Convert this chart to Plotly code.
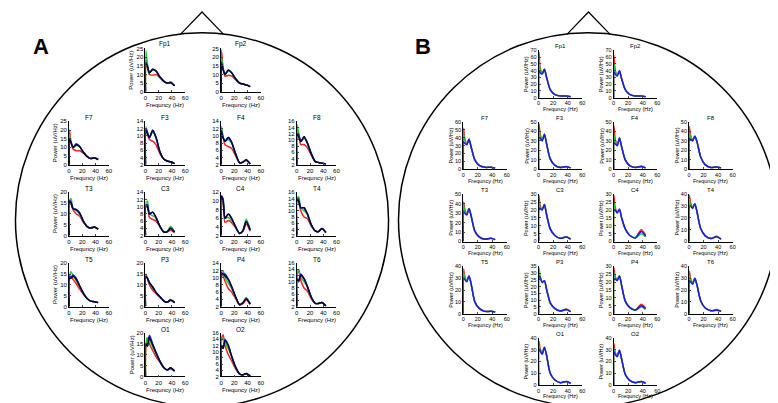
import plotly.graph_objects as go

# ---------------- data ----------------
FREQ_A = [0, 0.5, 3, 6, 11, 16, 22, 28, 33, 38, 44]
FREQ_B = [0, 0.5, 2, 5, 8, 11, 16, 22, 30, 38, 44]
X_TICKS = [0, 20, 40, 60]
ELECTRODES = ["Fp1", "Fp2", "F7", "F3", "F4", "F8", "T3", "C3", "C4", "T4",
              "T5", "P3", "P4", "T6", "O1", "O2"]

# Panel A: (red, green, blue, black)
A_FP1 = ([0, 20, 14, 10, 9.5, 10, 8, 6, 5, 5.5, 3.5],
         [0, 24, 16, 11, 12.5, 12, 8.5, 6, 5, 5.5, 3.5],
         [0, 17, 15, 11, 13, 12, 8.5, 6, 5, 5.5, 3.5],
         [0, 16, 14.5, 11, 13, 12, 8.5, 6, 5, 5.2, 3.5])
A_FP2 = ([0, 24, 14, 9, 9.5, 9, 7, 5, 4.5, 4, 3],
         [0, 20, 14, 10, 12, 11, 7.5, 5, 4.5, 4, 3],
         [0, 17, 13, 10, 12.5, 11, 7.5, 5, 4.5, 4, 3],
         [0, 16, 13, 10, 12.5, 11, 7.5, 5, 4.5, 4, 3])
A_F7 = ([0, 20, 13, 9, 8, 8, 6.5, 4.5, 3.5, 4, 3],
        [0, 17, 13, 10, 11, 10.5, 7, 4.5, 3.5, 4, 3],
        [0, 15, 13, 10, 12, 10.5, 7, 4.5, 3.5, 4, 3],
        [0, 15, 12.5, 10, 11.5, 10.5, 7, 4.5, 3.5, 4, 3])
A_F3 = ([2, 12, 10.5, 9, 8.5, 7.5, 5, 3.5, 3, 2.8, 2.3],
        [2, 12.5, 11, 9.5, 11, 9.5, 5.5, 3.5, 3, 2.8, 2.3],
        [2, 12, 11, 9.5, 11.5, 9.5, 5.5, 3.5, 3, 2.8, 2.3],
        [2, 11.5, 10.5, 9.5, 11.5, 9.5, 5.5, 3.5, 3, 2.8, 2.3])
A_F4 = ([2, 11, 9.5, 7.5, 7, 6.5, 4.5, 2.5, 2.7, 3.2, 2.2],
        [2, 12.5, 10, 8.5, 9, 8, 5, 2.5, 2.7, 3.3, 2.2],
        [2, 11.5, 9.5, 8.5, 9.5, 8.2, 5, 2.5, 2.7, 3.4, 2.2],
        [2, 11, 9.5, 8.5, 9.5, 8.2, 5, 2.5, 2.7, 3.3, 2.2])
A_F8 = ([2, 13, 12, 8.5, 8.5, 7.5, 5, 3, 2.7, 2.5, 2.2],
        [2, 15, 12, 9.5, 10.5, 9, 5.5, 3, 2.7, 2.5, 2.2],
        [2, 12, 11.5, 9.5, 11, 9, 5.5, 3, 2.7, 2.5, 2.2],
        [2, 12, 11, 9.5, 11, 9, 5.5, 3, 2.7, 2.5, 2.2])
A_T3 = ([0, 15, 14.5, 12, 10, 9, 6, 4, 3.5, 3.8, 3],
        [0, 16, 17, 12.5, 11.5, 10, 6.5, 4, 3.5, 4, 3],
        [0, 16, 15.5, 12.5, 12, 10.5, 6.5, 4, 3.5, 4, 3],
        [0, 15.5, 15, 12.5, 12, 10.5, 6.5, 4, 3.5, 4, 3])
A_C3 = ([2, 10, 10, 7, 6.5, 6, 4.5, 3, 3, 3.5, 2.8],
        [2, 11, 11.5, 8, 7.5, 7, 4.5, 3, 3.2, 4.5, 3],
        [2, 10.5, 10.5, 8, 8.5, 7, 4.5, 3, 3.1, 4.1, 3],
        [2, 10, 10, 8, 8.5, 7, 4.5, 3, 3.1, 4, 3])
A_C4 = ([2, 10.5, 10, 5, 5.5, 5, 3.8, 2.5, 3, 4.7, 3],
        [2, 11, 10.5, 6, 6.2, 5.5, 4, 2.5, 3.2, 5.8, 3.5],
        [2, 11.2, 10.5, 6, 7, 6, 4, 2.5, 3.1, 5.3, 3.3],
        [2, 11, 10, 6, 7, 6, 4, 2.5, 3.1, 5.2, 3.3])
A_T4 = ([2, 14, 13, 10, 8, 7.5, 5, 3.5, 3.3, 4.2, 3],
        [2, 14, 14.5, 11, 10, 9, 5.5, 3.5, 3.3, 4.3, 3],
        [2, 14, 13.5, 11, 11, 9, 5.5, 3.5, 3.3, 4.3, 3],
        [2, 13.5, 13, 11, 11, 9, 5.5, 3.5, 3.3, 4.3, 3])
A_T5 = ([0, 13, 14, 12.5, 10.5, 8, 5.5, 3.5, 2.5, 2.2, 1.8],
        [0, 13, 16, 14.5, 12, 9.5, 6, 3.5, 2.5, 2.2, 1.8],
        [0, 14, 13.5, 14.5, 13, 9.5, 6, 3.5, 2.5, 2.2, 1.8],
        [0, 13, 13, 14, 12.5, 9.5, 6, 3.5, 2.5, 2.2, 1.8])
A_P3 = ([0, 15, 13, 10, 7.5, 6, 4.2, 2.5, 2, 2.8, 1.8],
        [0, 14, 13, 11, 8.5, 6.5, 4.5, 2.5, 2, 3.2, 1.8],
        [0, 14, 13, 11, 9, 6.5, 4.5, 2.5, 2, 3, 1.8],
        [0, 14, 13, 11, 9, 6.5, 4.5, 2.5, 2, 3, 1.8])
A_P4 = ([2, 11, 10.5, 9, 7, 6, 4.2, 2.5, 2.8, 3.8, 2.6],
        [2, 11.5, 12, 10, 8.5, 7, 4.5, 2.5, 3, 4.5, 2.8],
        [2, 11.5, 11, 11, 9.5, 7.5, 4.7, 2.5, 3, 4.2, 2.7],
        [2, 11, 11, 10.5, 9.5, 7.5, 4.7, 2.5, 3, 4.1, 2.7])
A_T6 = ([2, 12, 14, 10.5, 8, 7, 4.5, 3, 3, 3.2, 2.2],
        [2, 12, 13.5, 11.5, 10, 8.5, 5, 3, 3, 3.3, 2.2],
        [2, 11, 10.5, 12.5, 11, 8.5, 5, 3, 3, 3.3, 2.2],
        [2, 10.5, 10, 12, 11, 8.5, 5, 3, 3, 3.3, 2.2])
A_O1 = ([0, 13, 17.5, 15, 12, 9, 6.5, 4, 3, 3.5, 2.5],
        [0, 15, 18, 17, 13.5, 10.5, 7, 4, 3, 3.8, 2.5],
        [0, 15, 14, 19, 15, 11, 7, 4, 3, 4, 2.5],
        [0, 15, 14, 18, 14.5, 11, 7, 4, 3, 4, 2.5])
A_O2 = ([2, 14, 15.5, 12, 9, 7, 4.5, 2.8, 2.5, 2.9, 2.1],
        [2, 13, 14.5, 13, 11, 8.5, 5, 2.8, 2.5, 3, 2.2],
        [2, 12, 11, 14, 12, 8.5, 5, 2.8, 2.5, 3, 2.2],
        [2, 12, 11, 13.5, 12, 8.5, 5, 2.8, 2.5, 3, 2.2])

# Panel B: (red, green, blue)
B_FP1 = ([0, 67, 45, 36, 42, 30, 12, 5, 2.5, 2.5, 1.5],
         [0, 55, 42, 36, 42, 30, 12, 5, 2.5, 2.5, 1.5],
         [0, 40, 37, 35, 42, 30, 12, 5, 2.5, 2.5, 1.5])
B_FP2 = ([0, 62, 42, 33, 40, 28, 12, 5, 2.5, 2.5, 1.5],
         [0, 50, 40, 33, 40, 28, 12, 5, 2.5, 2.5, 1.5],
         [0, 38, 35, 32, 40, 28, 12, 5, 2.5, 2.5, 1.5])
B_F7 = ([0, 52, 40, 32, 38, 28, 12, 5, 2.5, 2.5, 1.5],
        [0, 45, 38, 32, 38, 28, 12, 5, 2.5, 2.5, 1.5],
        [0, 35, 33, 31, 38, 28, 12, 5, 2.5, 2.5, 1.5])
B_F3 = ([0, 48, 38, 31, 37, 27, 11, 4.5, 2, 3, 1.5],
        [0, 40, 36, 31, 37, 27, 11, 4.5, 2, 3, 1.5],
        [0, 34, 33, 30, 37, 27, 11, 4.5, 2, 2.8, 1.5])
B_F4 = ([0, 46, 33, 26, 33, 24, 10, 4, 2, 3.5, 1.5],
        [0, 36, 30, 26, 33, 24, 10, 4, 2, 3, 1.5],
        [0, 28, 27, 25, 33, 24, 10, 4, 2, 2.8, 1.5])
B_F8 = ([0, 45, 36, 31, 35, 29, 13, 5, 2, 2.5, 1.5],
        [0, 38, 35, 31, 35, 29, 13, 5, 2, 2.5, 1.5],
        [0, 32, 32, 30, 35, 29, 13, 5, 2, 2.5, 1.5])
B_T3 = ([0, 42, 35, 29, 35, 27, 11, 5, 2.5, 3.5, 2],
        [0, 38, 33, 29, 35, 27, 11, 5, 2.5, 3.5, 2],
        [0, 32, 30, 28, 35, 27, 11, 5, 2.5, 3.5, 2])
B_C3 = ([0, 29, 23, 20.5, 23.5, 17, 8, 4, 2, 3, 1.5],
        [0, 25, 22, 20.5, 23.5, 17, 8, 4, 2, 3, 1.5],
        [0, 21, 21, 20, 23.5, 17, 8, 4, 2, 2.8, 1.5])
B_C4 = ([0, 29, 22, 18.5, 20.5, 15, 8, 4, 2.5, 7.5, 4],
        [0, 24, 21, 18.5, 20.5, 15, 8, 4, 2.2, 5, 3],
        [0, 20, 20, 18, 20.5, 15, 8, 4, 2.3, 6.3, 3.5])
B_T4 = ([0, 39, 33, 29, 32, 25, 11, 5, 2.5, 4.5, 2],
        [0, 35, 31, 29, 32, 25, 11, 5, 2.5, 4, 2],
        [0, 30, 30, 28, 32, 25, 11, 5, 2.5, 4, 2])
B_T5 = ([0, 38, 32, 28, 32, 25, 10, 4.5, 2, 2, 1.5],
        [0, 34, 31, 28, 32, 25, 10, 4.5, 2, 2, 1.5],
        [0, 30, 29, 27, 32, 25, 10, 4.5, 2, 2, 1.5])
B_P3 = ([0, 30, 27, 23.5, 24.5, 18, 8, 4, 2, 3.5, 1.5],
        [0, 34, 28, 23.5, 24.5, 18, 8, 4, 2, 3, 1.5],
        [0, 28, 27, 23, 24.5, 18, 8, 4, 2, 3.2, 1.5])
B_P4 = ([0, 29, 24, 21.5, 24, 18, 8, 4, 2.5, 6, 3.5],
        [0, 26, 23, 21.5, 24, 18, 8, 4, 2.2, 4.2, 2.8],
        [0, 22, 22, 21, 24, 18, 8, 4, 2.3, 5, 3.2])
B_T6 = ([0, 36, 30, 26, 30, 24, 11, 5, 2.5, 3.5, 2],
        [0, 32, 29, 26, 30, 24, 11, 5, 2.5, 3, 2],
        [0, 28, 27, 25, 30, 24, 11, 5, 2.5, 3, 2])
B_O1 = ([0, 37, 31, 27, 32, 25, 10, 4.5, 2, 3, 1.5],
        [0, 33, 30, 27, 32, 25, 10, 4.5, 2, 3, 1.5],
        [0, 30, 29, 26, 32, 25, 10, 4.5, 2, 3, 1.5])
B_O2 = ([0, 35, 28, 25, 29.5, 22, 9, 4, 2, 3, 1.5],
        [0, 31, 27, 25, 29.5, 22, 9, 4, 2, 3, 1.5],
        [0, 28, 26, 24, 29.5, 22, 9, 4, 2, 3, 1.5])

A_DATA = [A_FP1, A_FP2, A_F7, A_F3, A_F4, A_F8, A_T3, A_C3, A_C4, A_T4,
          A_T5, A_P3, A_P4, A_T6, A_O1, A_O2]
B_DATA = [B_FP1, B_FP2, B_F7, B_F3, B_F4, B_F8, B_T3, B_C3, B_C4, B_T4,
          B_T5, B_P3, B_P4, B_T6, B_O1, B_O2]

A_YTICKS = [[0, 5, 10, 15, 20, 25], [0, 5, 10, 15, 20, 25], [0, 5, 10, 15, 20, 25],
            [2, 4, 6, 8, 10, 12, 14], [2, 4, 6, 8, 10, 12, 14], [2, 4, 6, 8, 10, 12, 14, 16],
            [0, 5, 10, 15, 20], [2, 4, 6, 8, 10, 12, 14], [2, 4, 6, 8, 10, 12],
            [2, 4, 6, 8, 10, 12, 14, 16], [0, 5, 10, 15, 20], [0, 5, 10, 15, 20],
            [2, 4, 6, 8, 10, 12, 14], [2, 4, 6, 8, 10, 12, 14, 16], [0, 5, 10, 15, 20],
            [2, 4, 6, 8, 10, 12, 14, 16]]
B_YTICKS = [[0, 10, 20, 30, 40, 50, 60, 70], [0, 10, 20, 30, 40, 50, 60, 70],
            [0, 10, 20, 30, 40, 50, 60], [0, 10, 20, 30, 40, 50], [0, 10, 20, 30, 40, 50],
            [0, 10, 20, 30, 40, 50], [0, 10, 20, 30, 40, 50], [0, 5, 10, 15, 20, 25, 30],
            [0, 5, 10, 15, 20, 25, 30], [0, 10, 20, 30, 40], [0, 10, 20, 30, 40],
            [0, 5, 10, 15, 20, 25, 30, 35], [0, 5, 10, 15, 20, 25, 30],
            [0, 10, 20, 30, 40], [0, 10, 20, 30, 40], [0, 10, 20, 30, 40]]

TITLE_X = "Frequncy (Hz)"
TITLE_Y = "Power (uV/Hz)"

# ---------------- layout helpers ----------------
W, H = 778, 403
FONT = "Liberation Sans, Arial, sans-serif"
# grid slot (column, row) of each electrode on the head
SLOT = {"Fp1": (1, 0), "Fp2": (2, 0), "F7": (0, 1), "F3": (1, 1), "F4": (2, 1), "F8": (3, 1),
        "T3": (0, 2), "C3": (1, 2), "C4": (2, 2), "T4": (3, 2),
        "T5": (0, 3), "P3": (1, 3), "P4": (2, 3), "T6": (3, 3), "O1": (1, 4), "O2": (2, 4)}
LEFT_A = {"Fp1", "F7", "T3", "T5", "O1"}


def px(x):
    return x / W


def py(y):
    return 1 - y / H


PANELS = [
    dict(data=A_DATA, yt=A_YTICKS, freq=FREQ_A,
         cols=[59.5, 136.5, 212.7, 289.0], rows=[38, 112, 184, 256, 327],
         w=40, h=44, colors=["#f02424", "#22c832", "#1a1ae6", "#050530"],
         fs=6, ylab_off=14, xlab_off=13.5, ylab_all=False, lw=1.5),
    dict(data=B_DATA, yt=B_YTICKS, freq=FREQ_B,
         cols=[456.7, 532.7, 608.3, 684.3], rows=[40, 112.7, 186, 259.3, 331.7],
         w=44, h=48, colors=["#f02424", "#22c832", "#1a1ae6"],
         fs=5.5, ylab_off=12.5, xlab_off=11.5, ylab_all=True, lw=1.5),
]

fig = go.Figure()
layout = {}
ann = []
idx = 0
for P in PANELS:
    for k, name in enumerate(ELECTRODES):
        idx += 1
        c, r = SLOT[name]
        x0 = P["cols"][c]
        top = P["rows"][r]
        w, h = P["w"], P["h"]
        xs = "x" if idx == 1 else f"x{idx}"
        ys = "y" if idx == 1 else f"y{idx}"
        xk = "xaxis" if idx == 1 else f"xaxis{idx}"
        yk = "yaxis" if idx == 1 else f"yaxis{idx}"
        yt = P["yt"][k]
        tf = dict(family=FONT, size=P["fs"], color="black")
        layout[xk] = dict(domain=[px(x0), px(x0 + w)], anchor=ys, range=[0, 60],
                          tickvals=X_TICKS, ticks="inside", ticklen=2, tickwidth=0.8,
                          showline=True, linecolor="black", linewidth=0.9,
                          showgrid=False, zeroline=False, tickfont=tf, fixedrange=True)
        layout[yk] = dict(domain=[py(top + h), py(top)], anchor=xs, range=[yt[0], yt[-1]],
                          tickvals=yt, ticks="inside", ticklen=2, tickwidth=0.8,
                          showline=True, linecolor="black", linewidth=0.9,
                          showgrid=False, zeroline=False, tickfont=tf, fixedrange=True)
        for series, col in zip(P["data"][k], P["colors"]):
            fig.add_trace(go.Scatter(x=P["freq"], y=series, xaxis=xs, yaxis=ys,
                                     mode="lines", line=dict(color=col, width=P["lw"],
                                                             shape="spline", smoothing=0.7),
                                     showlegend=False, hoverinfo="skip"))
        ann.append(dict(x=px(x0 + w / 2), y=py(top - 4), xref="paper", yref="paper",
                        text=name, showarrow=False, xanchor="center", yanchor="middle",
                        font=dict(family=FONT, size=P["fs"] + 0.5, color="black")))
        ann.append(dict(x=px(x0 + w / 2), y=py(top + h + P["xlab_off"]), xref="paper",
                        yref="paper", text=TITLE_X, showarrow=False, xanchor="center",
                        yanchor="middle", font=dict(family=FONT, size=P["fs"], color="black")))
        if P["ylab_all"] or name in LEFT_A:
            ann.append(dict(x=px(x0 - P["ylab_off"]), y=py(top + h / 2), xref="paper",
                            yref="paper", text=TITLE_Y, showarrow=False, textangle=-90,
                            xanchor="center", yanchor="middle",
                            font=dict(family=FONT, size=P["fs"], color="black")))

# panel letters
ann.append(dict(x=px(21), y=py(21), xref="paper", yref="paper", text="<b>A</b>",
                showarrow=False, font=dict(family=FONT, size=22, color="black")))
ann.append(dict(x=px(416), y=py(21), xref="paper", yref="paper", text="<b>B</b>",
                showarrow=False, font=dict(family=FONT, size=22, color="black")))

# head outlines and noses
shapes = []
for (cx0, cx1, nose_c) in [(5.5, 381.5, 193.5), (391.5, 773.5, 583)]:
    shapes.append(dict(type="circle", xref="paper", yref="paper",
                       x0=px(cx0), x1=px(cx1), y0=py(402), y1=py(22),
                       line=dict(color="black", width=1.5)))
    shapes.append(dict(type="path", xref="paper", yref="paper",
                       path=f"M {px(nose_c - 21.5)},{py(23.5)} L {px(nose_c)},{py(1)} "
                            f"L {px(nose_c + 21.5)},{py(23.5)}",
                       line=dict(color="black", width=1.2)))

fig.update_layout(width=W, height=H, margin=dict(l=0, r=0, t=0, b=0),
                  paper_bgcolor="white", plot_bgcolor="rgba(0,0,0,0)",
                  annotations=ann, shapes=shapes, showlegend=False, **layout)
fig.write_html("out.html")
